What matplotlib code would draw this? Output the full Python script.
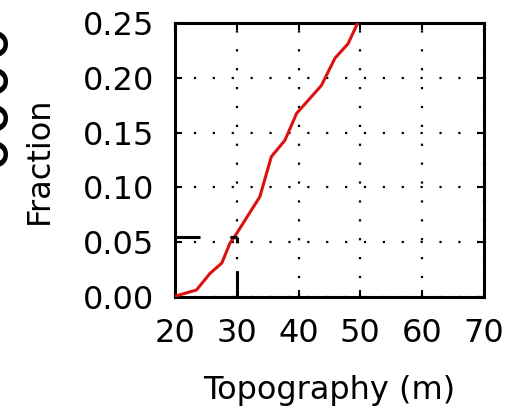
import numpy as np
import matplotlib
matplotlib.use("Agg")
import matplotlib.pyplot as plt

# cumulative fraction vs topography
topo = [20.2, 23.5, 25.7, 27.6, 28.9, 30.0, 33.75, 35.6, 37.8, 39.7, 43.7, 45.9, 48.0, 49.4, 50.2]
frac = [0.001, 0.0064, 0.0216, 0.031, 0.049, 0.058, 0.0915, 0.128, 0.143, 0.1676, 0.193, 0.218, 0.231, 0.248, 0.262]

# marker for the 30 m level
x_mark = 30
y_mark = 0.055

x_ticks = [20, 30, 40, 50, 60, 70]
y_ticks = [0.00, 0.05, 0.10, 0.15, 0.20, 0.25]

plt.rcParams["lines.scale_dashes"] = False
plt.rcParams["font.family"] = "DejaVu Sans"

fig = plt.figure(figsize=(5.25, 4.11), dpi=100)
ax = fig.add_axes([0.333, 0.2774, 0.589, 0.6666])

ax.plot(topo, frac, color="#dd1010", lw=2.2, zorder=3)
ax.plot([20, x_mark], [y_mark, y_mark], color="k", lw=2.2, ls=(0, (18, 21.5)), zorder=4)
ax.plot([x_mark, x_mark], [0, y_mark], color="k", lw=2.2, ls=(0, (19, 20)), zorder=4)

ax.set_xlim(20, 70)
ax.set_ylim(0, 0.25)
ax.set_xticks(x_ticks)
ax.set_yticks(y_ticks)
ax.set_yticklabels([f"{v:.2f}" for v in y_ticks])
ax.grid(True, color="k", lw=1.6, ls=(0, (1.6, 12)))
ax.tick_params(direction="in", top=True, right=True, length=5, width=1.5,
               labelsize=23, pad=15)
for s in ax.spines.values():
    s.set_linewidth(2.2)

ax.set_xlabel("Topography (m)", fontsize=23, labelpad=19)
ax.set_ylabel("Fraction", fontsize=23, labelpad=20)

# edge of a neighbouring panel's labels, cut off at the left border
fig.text(-0.078, 0.77, "0000", rotation=90, fontsize=42, ha="left", va="center")

fig.savefig("out.png", dpi=100)
